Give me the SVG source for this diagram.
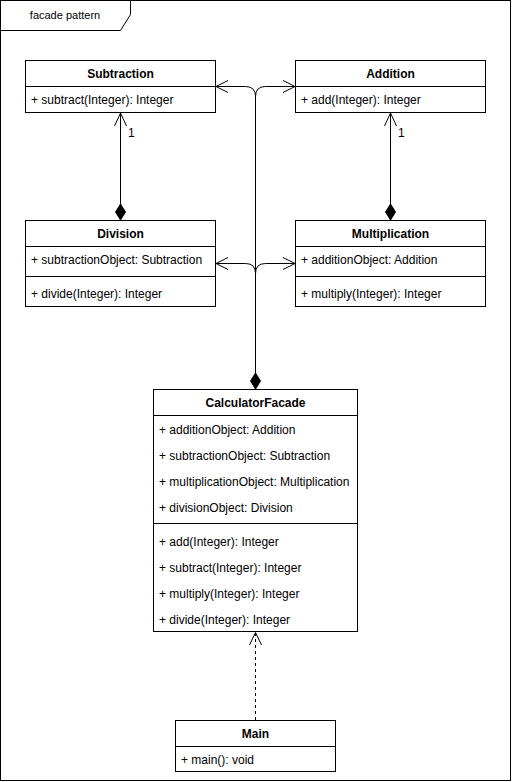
<svg xmlns="http://www.w3.org/2000/svg" width="512" height="782" viewBox="0 0 512 782">
  <style>
    .box { fill: #ffffff; stroke: #000000; stroke-width: 1; }
    .sep { stroke: #000000; stroke-width: 1; fill: none; }
    .title { font-family: "Liberation Sans", Arial, sans-serif; font-size: 12px; font-weight: bold; fill: #000000; text-anchor: middle; }
    .member { font-family: "Liberation Sans", Arial, sans-serif; font-size: 12px; fill: #000000; }
    .frame-label { font-family: "Liberation Sans", Arial, sans-serif; font-size: 11px; fill: #000000; text-anchor: middle; }
    .edge { fill: none; stroke: #000000; stroke-width: 1; }
    .dashed { stroke-dasharray: 3 3; }
    .diamond { fill: #000000; stroke: #000000; stroke-width: 1; }
    .mult { font-family: "Liberation Sans", Arial, sans-serif; font-size: 12px; fill: #000000; }
  </style>

  <!-- UML frame -->
  <g id="frame">
    <rect x="0.5" y="0.5" width="510" height="780" fill="#ffffff" stroke="#000000"/>
    <path d="M0.5,30.5 L120.5,30.5 L130.5,14.5 L130.5,0.5" class="sep"/>
    <text x="65" y="19" class="frame-label">facade pattern</text>
  </g>

  <!-- connectors -->
  <g id="connectors">
    <!-- facade composition links -->
    <path class="edge" d="M255.5,373 L255.5,96.5 Q255.5,86.5 245.5,86.5 L216,86.5"/>
    <path class="edge" d="M255.5,373 L255.5,96.5 Q255.5,86.5 265.5,86.5 L295,86.5"/>
    <path class="edge" d="M255.5,373 L255.5,273.5 Q255.5,263.5 245.5,263.5 L216,263.5"/>
    <path class="edge" d="M255.5,373 L255.5,273.5 Q255.5,263.5 265.5,263.5 L295,263.5"/>
    <path class="edge" d="M228,80.5 L216,86.5 L228,92.5"/>
    <path class="edge" d="M283,80.5 L295,86.5 L283,92.5"/>
    <path class="edge" d="M228,257.5 L216,263.5 L228,269.5"/>
    <path class="edge" d="M283,257.5 L295,263.5 L283,269.5"/>
    <path class="diamond" d="M255.5,373 L260.5,381 L255.5,389 L250.5,381 Z"/>

    <!-- Division -> Subtraction -->
    <path class="edge" d="M120.5,113 L120.5,204"/>
    <path class="edge" d="M114.5,126 L120.5,113 L126.5,126"/>
    <path class="diamond" d="M120.5,204 L125.5,212 L120.5,220 L115.5,212 Z"/>
    <text x="128" y="137" class="mult">1</text>

    <!-- Multiplication -> Addition -->
    <path class="edge" d="M390.5,113 L390.5,204"/>
    <path class="edge" d="M384.5,126 L390.5,113 L396.5,126"/>
    <path class="diamond" d="M390.5,204 L395.5,212 L390.5,220 L385.5,212 Z"/>
    <text x="398" y="137" class="mult">1</text>

    <!-- Main depends on CalculatorFacade -->
    <path class="edge dashed" d="M255.5,720 L255.5,633"/>
    <path class="edge" d="M249.5,645 L255.5,632.5 L261.5,645"/>
  </g>

  <g id="subtraction">
    <rect class="box" x="25.5" y="60.5" width="190" height="52"/>
    <line class="sep" x1="25.5" y1="86.5" x2="215.5" y2="86.5"/>
    <text x="120.5" y="78" class="title">Subtraction</text>
    <text x="31" y="104" class="member">+ subtract(Integer): Integer</text>
  </g>

  <g id="addition">
    <rect class="box" x="295.5" y="60.5" width="190" height="52"/>
    <line class="sep" x1="295.5" y1="86.5" x2="485.5" y2="86.5"/>
    <text x="390.5" y="78" class="title">Addition</text>
    <text x="301" y="104" class="member">+ add(Integer): Integer</text>
  </g>

  <g id="division">
    <rect class="box" x="25.5" y="220.5" width="190" height="86"/>
    <line class="sep" x1="25.5" y1="246.5" x2="215.5" y2="246.5"/>
    <line class="sep" x1="25.5" y1="276.5" x2="215.5" y2="276.5"/>
    <text x="120.5" y="238" class="title">Division</text>
    <text x="31" y="264" class="member">+ subtractionObject: Subtraction</text>
    <text x="31" y="298" class="member">+ divide(Integer): Integer</text>
  </g>

  <g id="multiplication">
    <rect class="box" x="295.5" y="220.5" width="190" height="86"/>
    <line class="sep" x1="295.5" y1="246.5" x2="485.5" y2="246.5"/>
    <line class="sep" x1="295.5" y1="276.5" x2="485.5" y2="276.5"/>
    <text x="390.5" y="238" class="title">Multiplication</text>
    <text x="301" y="264" class="member">+ additionObject: Addition</text>
    <text x="301" y="298" class="member">+ multiply(Integer): Integer</text>
  </g>

  <g id="calculator-facade">
    <rect class="box" x="153.5" y="389.5" width="204" height="242"/>
    <line class="sep" x1="153.5" y1="415.5" x2="357.5" y2="415.5"/>
    <line class="sep" x1="153.5" y1="523.5" x2="357.5" y2="523.5"/>
    <text x="255.5" y="407" class="title">CalculatorFacade</text>
    <text x="159" y="434" class="member">+ additionObject: Addition</text>
    <text x="159" y="460" class="member">+ subtractionObject: Subtraction</text>
    <text x="159" y="486" class="member">+ multiplicationObject: Multiplication</text>
    <text x="159" y="512" class="member">+ divisionObject: Division</text>
    <text x="159" y="546" class="member">+ add(Integer): Integer</text>
    <text x="159" y="572" class="member">+ subtract(Integer): Integer</text>
    <text x="159" y="598" class="member">+ multiply(Integer): Integer</text>
    <text x="159" y="624" class="member">+ divide(Integer): Integer</text>
  </g>

  <g id="main">
    <rect class="box" x="175.5" y="720.5" width="160" height="51"/>
    <line class="sep" x1="175.5" y1="746.5" x2="335.5" y2="746.5"/>
    <text x="255.5" y="738" class="title">Main</text>
    <text x="181" y="764" class="member">+ main(): void</text>
  </g>
</svg>
